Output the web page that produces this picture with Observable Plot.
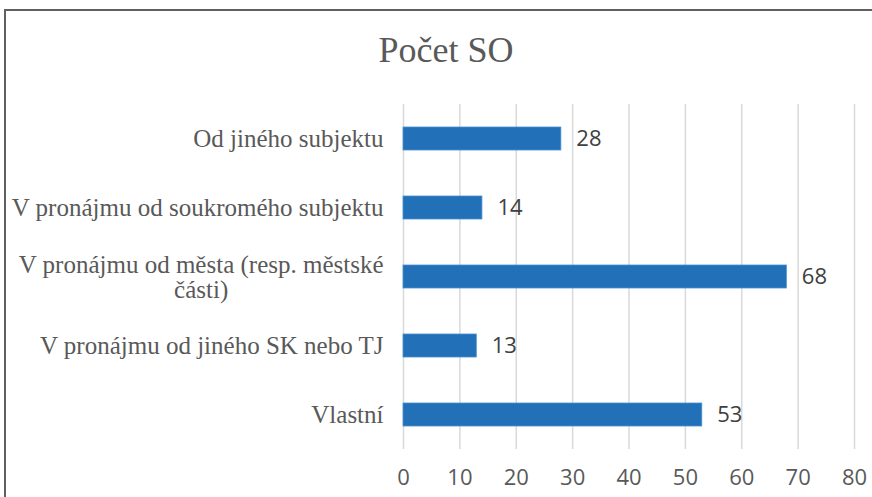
<!DOCTYPE html>
<html><head><meta charset="utf-8">
<script src="https://cdn.jsdelivr.net/npm/d3@7"></script>
<script src="https://cdn.jsdelivr.net/npm/@observablehq/plot@0.6"></script>
<style>
html,body{margin:0;padding:0;background:#fff;}
#wrap{position:relative;width:872px;height:497px;overflow:hidden;background:#fff;}
#title{position:absolute;left:0;top:32px;width:892px;text-align:center;font-family:"Liberation Serif","Times New Roman",serif;font-size:36px;line-height:36px;color:#595959;z-index:2;}
#frame{position:absolute;left:4px;top:9px;width:1000px;height:1000px;border:2px solid #606060;z-index:3;pointer-events:none;}
#chart{position:absolute;left:0;top:0;z-index:1;}
</style></head>
<body><div id="wrap"><div id="chart"></div><div id="title">Počet SO</div><div id="frame"></div></div>
<script>
const categories = ["Od jiného subjektu","V pronájmu od soukromého subjektu","V pronájmu od města (resp. městské části)","V pronájmu od jiného SK nebo TJ","Vlastní"];
const tickLabels = ["Od jiného subjektu","V pronájmu od soukromého subjektu","V pronájmu od města (resp. městské\nčásti)","V pronájmu od jiného SK nebo TJ","Vlastní"];
const values = [28,14,68,13,53];
const xTicks = [0,10,20,30,40,50,60,70,80];

const data = categories.map((c,i)=>({cat:c, value:values[i]}));
const labelOf = new Map(categories.map((c,i)=>[c,tickLabels[i]]));

const sans = "'Open Sans', 'Liberation Sans', sans-serif";
const serif = "'Liberation Serif', 'Times New Roman', serif";

const plot = Plot.plot({
  width: 872, height: 497,
  marginLeft: 403, marginRight: 18, marginTop: 104, marginBottom: 48,
  style: {background: "transparent", overflow: "visible"},
  x: {domain: [0,80], ticks: xTicks},
  y: {domain: categories, paddingInner: 0.66, paddingOuter: 0.33},
  marks: [
    Plot.ruleX(xTicks, {stroke: "#d9d9d9", strokeWidth: 1.5}),
    Plot.barX(data, {x: "value", y: "cat", fill: "#2170b8", stroke: "#4a8fd0", strokeWidth: 0.8}),
    Plot.text(data, {x: "value", y: "cat", text: d => String(d.value), textAnchor: "start", dx: 15, fontSize: 22, fontFamily: sans, fill: "#404040"}),
    Plot.axisX({ticks: xTicks, tickSize: 0, tickPadding: 20, fontSize: 22, fontFamily: sans, color: "#595959", label: null}),
    Plot.axisY({tickSize: 0, tickPadding: 20, fontSize: 25, fontFamily: serif, color: "#595959", label: null, tickFormat: d => labelOf.get(d)})
  ]
});
document.getElementById("chart").appendChild(plot);

// center lines of the wrapped label within its right-aligned block
plot.querySelectorAll("text").forEach(t => {
  const spans = t.querySelectorAll("tspan");
  if (spans.length > 1) {
    let w = 0;
    spans.forEach(s => { w = Math.max(w, s.getComputedTextLength()); });
    t.setAttribute("text-anchor", "middle");
    t.style.textAnchor = "middle";
    spans.forEach(s => s.setAttribute("x", String(-w/2 + (+s.getAttribute("x") || 0))));
  }
});
</script>
</body></html>
